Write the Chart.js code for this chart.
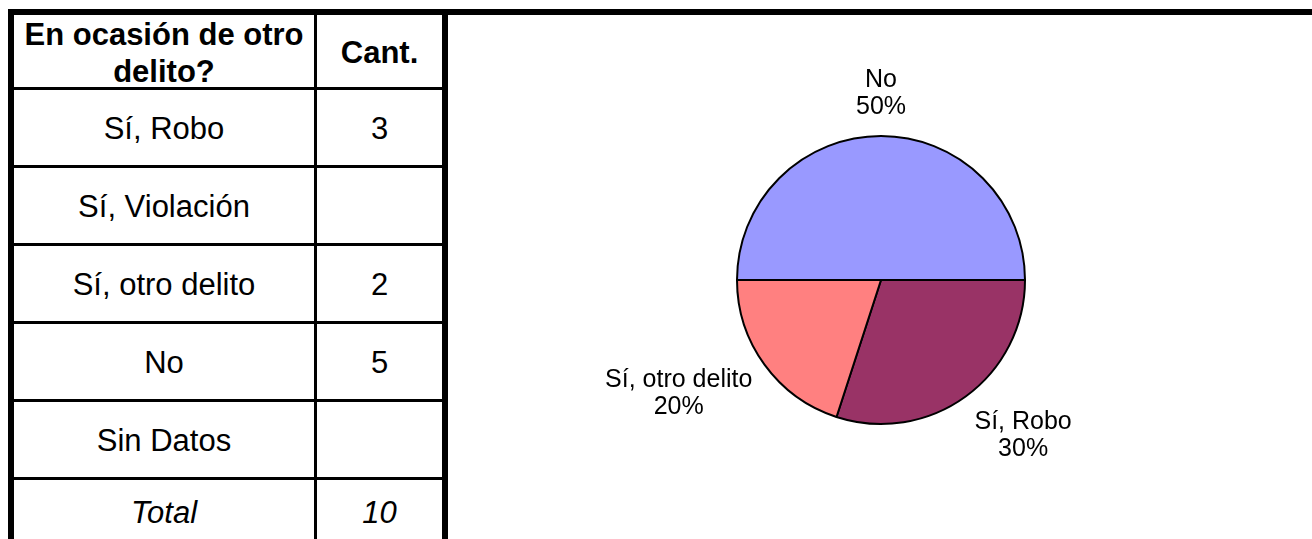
<!DOCTYPE html>
<html>
<head>
<meta charset="utf-8">
<script src="https://cdn.jsdelivr.net/npm/chart.js@4/dist/chart.umd.min.js"></script>
<style>
  body { margin: 0; background: #fff; width: 1312px; height: 539px; overflow: hidden; position: relative;
         font-family: "Liberation Sans", Arial, sans-serif; color: #000; }
  .topline { position: absolute; left: 8px; top: 9px; width: 1304px; height: 6px; background: #000; }
  .tabla { position: absolute; left: 8px; top: 15px; width: 440px; height: 540px;
           border-left: 6px solid #000; border-right: 6px solid #000; box-sizing: border-box; }
  .fila { display: flex; border-bottom: 3px solid #000; height: 78px; box-sizing: border-box; }
  .fila.head { height: 75px; }
  .fila.total { border-bottom: none; height: 62px; }
  .c1 { width: 303px; border-right: 3px solid #000; box-sizing: border-box;
        display: flex; align-items: center; justify-content: center; text-align: center; font-size: 31px; }
  .c2 { width: 125px; display: flex; align-items: center; justify-content: center; font-size: 31px; }
  .fila .c1, .fila .c2 { padding-top: 3px; box-sizing: border-box; }
  .head .c1, .head .c2 { font-weight: bold; line-height: 1.2; padding-top: 4px; }
  .total .c1, .total .c2 { font-style: italic; }
  #wrap { position: absolute; left: 448px; top: 15px; width: 864px; height: 524px; }
</style>
</head>
<body>
<div class="topline"></div>
<div class="tabla" id="tabla"></div>
<div id="wrap"><canvas id="chart1"></canvas></div>
<script>
const titulo = ['En ocasión de otro', 'delito?']
const colCant = 'Cant.'
const categorias = ['Sí, Robo', 'Sí, Violación', 'Sí, otro delito', 'No', 'Sin Datos']
const cantidades = [3, null, 2, 5, null]
const total = 10
const colores = ['#993366', '#CCFFFF', '#FF8080', '#9999FF', '#FFFFCC']

function armarTabla(){
    const t = document.getElementById('tabla')
    let html = '<div class="fila head"><div class="c1">' + titulo.join('<br>') + '</div><div class="c2">' + colCant + '</div></div>'
    categorias.forEach((c, i) => {
        html += '<div class="fila"><div class="c1">' + c + '</div><div class="c2">' + (cantidades[i] == null ? '' : cantidades[i]) + '</div></div>'
    })
    html += '<div class="fila total"><div class="c1">Total</div><div class="c2">' + total + '</div></div>'
    t.innerHTML = html
}

// etiquetas afuera de la torta, estilo excel
const etiquetas = {
    id: 'etiquetas',
    afterDatasetsDraw(chart){
        const ctx = chart.ctx
        const meta = chart.getDatasetMeta(0)
        const datos = chart.data.datasets[0].data
        const suma = datos.reduce((a, b) => a + (b || 0), 0)
        ctx.save()
        ctx.font = '25px "Liberation Sans", Arial, sans-serif'
        ctx.fillStyle = '#000'
        ctx.textAlign = 'center'
        ctx.textBaseline = 'middle'
        meta.data.forEach((arc, i) => {
            const v = datos[i]
            if (!v) return
            const p = arc.getProps(['x', 'y', 'startAngle', 'endAngle', 'outerRadius'], true)
            const a = (p.startAngle + p.endAngle) / 2
            const R = p.outerRadius + 15
            const lineas = [chart.data.labels[i], Math.round(v / suma * 100) + '%']
            const w = Math.max(...lineas.map(l => ctx.measureText(l).width))
            const lh = 27
            const h = lh * lineas.length
            const cos = Math.cos(a), sin = Math.sin(a)
            const sx = Math.abs(cos) < 0.1 ? 0 : Math.sign(cos)
            const sy = Math.abs(sin) < 0.1 ? 0 : Math.sign(sin)
            const cx = p.x + cos * R + sx * w / 2
            const cy = p.y + sin * R + sy * h / 2 * Math.min(1, Math.abs(sin) * 1.25)
            lineas.forEach((l, k) => ctx.fillText(l, cx, cy - h / 2 + lh / 2 + k * lh))
        })
        ctx.restore()
    }
}

function grafico1(){
    const data = {
        labels: categorias,
        datasets: [{
            data: cantidades,
            backgroundColor: colores,
            borderColor: '#000',
            borderWidth: 2
        }]
    }
    new Chart(document.getElementById('chart1'), {
        type: 'pie',
        data,
        options: {
            responsive: true,
            maintainAspectRatio: false,
            animation: false,
            rotation: 90,
            layout: { padding: { top: 120, bottom: 114, left: 200, right: 198 } },
            plugins: { legend: { display: false }, tooltip: { enabled: false } }
        },
        plugins: [etiquetas]
    })
}

armarTabla()
grafico1()
</script>
</body>
</html>
